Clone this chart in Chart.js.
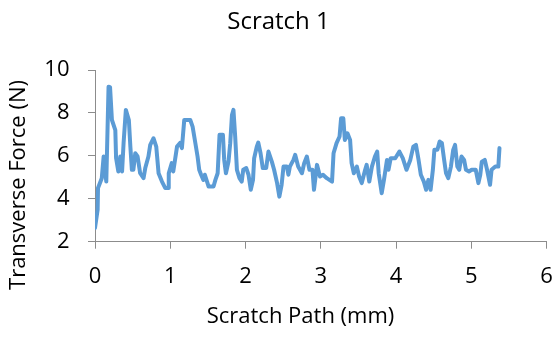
<!DOCTYPE html>
<html>
<head>
<meta charset="utf-8">
<script src="https://cdn.jsdelivr.net/npm/chart.js@4"></script>
<style>
  html, body { margin: 0; padding: 0; background: #fff; }
  #wrap { width: 557px; height: 337px; }
</style>
</head>
<body>
<div id="wrap"><canvas id="scratchChart"></canvas></div>
<script>
// scratch path (mm) and transverse force (N)
const pathMm = [
  0.00, 0.035, 0.04, 0.09, 0.115, 0.15, 0.18, 0.20, 0.225, 0.27, 0.28, 0.31, 0.336, 0.36, 0.38, 0.41,
  0.45, 0.47, 0.49, 0.51, 0.535, 0.566, 0.60, 0.645, 0.668, 0.71, 0.734, 0.778, 0.814, 0.845, 0.89, 0.934,
  0.977, 0.98, 1.02, 1.04, 1.09, 1.13, 1.155, 1.186, 1.266, 1.297, 1.33, 1.363, 1.385, 1.41, 1.44, 1.46,
  1.51, 1.575, 1.60, 1.63, 1.655, 1.70, 1.717, 1.74, 1.774, 1.797, 1.82, 1.84, 1.863, 1.886, 1.92, 1.95,
  1.97, 2.01, 2.04, 2.07, 2.10, 2.115, 2.15, 2.17, 2.20, 2.23, 2.275, 2.305, 2.35, 2.38, 2.42, 2.45,
  2.48, 2.505, 2.55, 2.57, 2.59, 2.637, 2.66, 2.70, 2.75, 2.78, 2.815, 2.85, 2.89, 2.91, 2.95, 2.99,
  3.03, 3.08, 3.15, 3.17, 3.21, 3.25, 3.27, 3.30, 3.32, 3.355, 3.39, 3.41, 3.44, 3.48, 3.51, 3.545,
  3.59, 3.61, 3.645, 3.68, 3.72, 3.75, 3.77, 3.81, 3.84, 3.88, 3.90, 3.93, 3.99, 4.045, 4.09, 4.14,
  4.19, 4.23, 4.265, 4.30, 4.33, 4.37, 4.40, 4.43, 4.46, 4.49, 4.51, 4.55, 4.58, 4.61, 4.64, 4.665,
  4.695, 4.73, 4.76, 4.785, 4.815, 4.84, 4.87, 4.905, 4.93, 4.97, 5.006, 5.06, 5.095, 5.12, 5.14, 5.18,
  5.21, 5.25, 5.27, 5.32, 5.36, 5.375
];
const forceN = [
  2.64, 3.49, 4.50, 4.96, 5.97, 4.80, 9.22, 9.20, 7.67, 7.20, 5.90, 5.27, 5.97, 5.27, 6.60, 8.14,
  7.67, 6.43, 5.35, 5.35, 6.12, 5.97, 5.19, 4.96, 5.43, 5.97, 6.51, 6.82, 6.43, 5.19, 4.80, 4.50,
  4.50, 5.19, 5.66, 5.27, 6.43, 6.60, 6.36, 7.67, 7.67, 7.36, 6.67, 5.97, 5.35, 5.12, 4.88, 5.12,
  4.57, 4.57, 4.88, 5.19, 6.98, 6.98, 5.81, 5.19, 5.73, 6.59, 7.90, 8.14, 6.90, 5.35, 4.96, 4.80,
  5.35, 5.43, 5.12, 4.42, 4.88, 5.89, 6.43, 6.62, 6.12, 5.43, 5.43, 6.20, 5.73, 5.35, 4.73, 4.10,
  4.65, 5.50, 5.50, 5.12, 5.50, 5.81, 6.05, 5.50, 5.19, 5.66, 5.97, 5.35, 5.35, 4.42, 5.58, 5.04,
  5.12, 4.96, 4.80, 6.12, 6.59, 6.90, 7.75, 7.75, 6.74, 7.05, 6.74, 5.66, 5.19, 5.50, 5.04, 4.73,
  5.35, 5.58, 4.80, 5.50, 5.97, 6.20, 5.19, 4.26, 4.88, 5.81, 5.35, 5.89, 5.89, 6.20, 5.89, 5.35,
  5.81, 6.43, 6.51, 5.81, 5.12, 4.80, 4.42, 4.88, 4.42, 5.35, 6.28, 6.28, 6.67, 6.59, 5.81, 5.19,
  4.96, 5.50, 6.28, 6.51, 5.50, 5.35, 5.97, 5.81, 5.35, 5.27, 5.35, 5.35, 4.73, 5.12, 5.73, 5.81,
  5.35, 4.65, 5.35, 5.50, 5.50, 6.36
];
const xTicks = [0, 1, 2, 3, 4, 5, 6];
const yTicks = [2, 4, 6, 8, 10];
const xTitle = 'Scratch Path (mm)';
const yTitle = 'Transverse Force (N)';

const axisGrey = '#8c8c8c';
const fontFamily = '"Open Sans", Lato, sans-serif';
Chart.defaults.font.family = fontFamily;
Chart.defaults.font.size = 22;
Chart.defaults.color = '#000';

const points = pathMm.map((x, i) => ({ x: x, y: forceN[i] }));

// axis titles sit off-centre in the original (Excel style), so draw them here
const axisTitles = {
  id: 'axisTitles',
  afterDraw(chart) {
    const ctx = chart.ctx;
    ctx.save();
    ctx.font = '22px ' + fontFamily;
    ctx.fillStyle = '#000';
    ctx.textAlign = 'center';
    ctx.textBaseline = 'middle';
    ctx.fillText(xTitle, 300.5, 317);
    ctx.translate(19, 185);
    ctx.rotate(-Math.PI / 2);
    ctx.fillText(yTitle, 0, 0);
    ctx.restore();
  }
};

new Chart(document.getElementById('scratchChart'), {
  type: 'line',
  data: {
    datasets: [{
      label: 'Scratch 1',
      data: points,
      borderColor: '#5b9bd5',
      borderWidth: 4,
      borderJoinStyle: 'round',
      borderCapStyle: 'round',
      pointRadius: 0,
      fill: false,
      tension: 0
    }]
  },
  plugins: [axisTitles],
  options: {
    responsive: true,
    maintainAspectRatio: false,
    animation: false,
    layout: { padding: 0 },
    plugins: {
      legend: { display: false },
      tooltip: { enabled: false },
      title: {
        display: true,
        text: 'Scratch 1',
        color: '#000',
        font: { size: 24, weight: 'normal' },
        padding: { top: 7.6, bottom: 33.6 }
      }
    },
    scales: {
      x: {
        type: 'linear',
        min: xTicks[0],
        max: xTicks[xTicks.length - 1],
        afterBuildTicks: (axis) => { axis.ticks = xTicks.map(v => ({ value: v })); },
        afterFit: (axis) => {
          axis.height = 95.3;
          axis.paddingLeft = 0;
          axis.paddingRight = 10.5;
        },
        ticks: { padding: 14.8, maxRotation: 0 },
        grid: { drawOnChartArea: false, tickLength: 7, color: axisGrey },
        border: { color: axisGrey }
      },
      y: {
        min: yTicks[0],
        max: yTicks[yTicks.length - 1],
        afterBuildTicks: (axis) => { axis.ticks = yTicks.map(v => ({ value: v })); },
        afterFit: (axis) => { axis.width = 95; },
        ticks: { padding: 18.5 },
        grid: { drawOnChartArea: false, tickLength: 7, color: axisGrey },
        border: { color: axisGrey }
      }
    }
  }
});
</script>
</body>
</html>
